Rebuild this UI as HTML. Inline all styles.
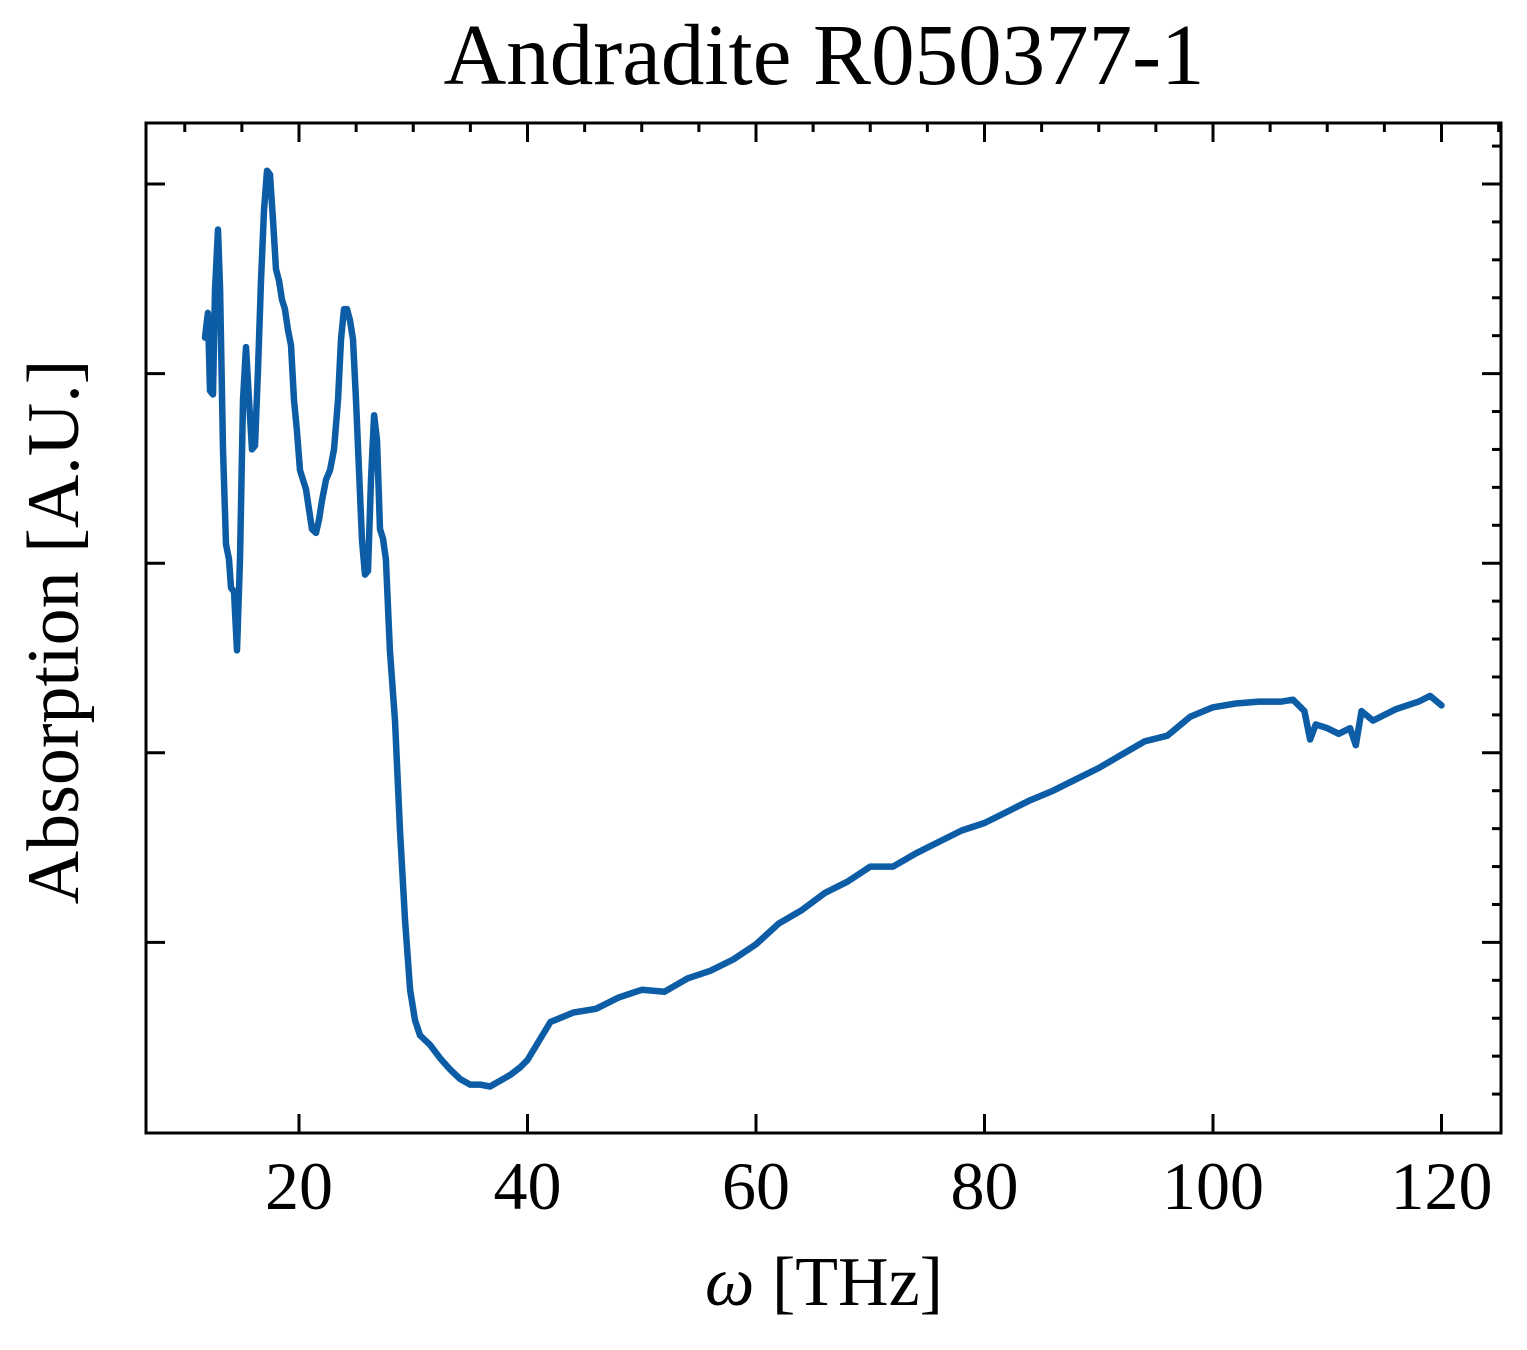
<!DOCTYPE html>
<html><head><meta charset="utf-8"><style>
html,body{margin:0;padding:0;background:#fff;}
svg text{font-family:"Liberation Serif","DejaVu Serif",serif;fill:#000;}
</style></head><body>
<svg id="chart" width="1527" height="1345" viewBox="0 0 1527 1345" xmlns="http://www.w3.org/2000/svg">
<text x="824" y="84" font-size="87" text-anchor="middle">Andradite R050377-1</text>
<g id="ticks"></g>
<path id="line" fill="none" stroke="#0C5DA5" stroke-width="6.5" stroke-linejoin="round" stroke-linecap="round"/>
<rect x="146" y="123" width="1355" height="1010" fill="none" stroke="#000" stroke-width="3"/>
<g id="xlabels"></g>
<text x="824" y="1305" font-size="70" text-anchor="middle"><tspan font-style="italic">ω</tspan> [THz]</text>
<text transform="translate(78,632) rotate(-90)" font-size="74" text-anchor="middle">Absorption [A.U.]</text>
</svg>
<script>
const xTicks=[20,40,60,80,100,120];
const yTicks=[1,2,3,4,5];
const freq=[11.77,12.03,12.21,12.47,12.65,12.91,13.09,13.35,13.61,13.87,14.05,14.31,14.57,14.84,15.10,15.36,15.62,15.89,16.15,16.41,16.67,16.94,17.20,17.46,17.72,17.99,18.25,18.51,18.77,19.04,19.30,19.56,19.82,20.09,20.35,20.61,20.88,21.14,21.49,21.75,22.01,22.36,22.71,23.06,23.41,23.68,23.94,24.20,24.46,24.73,24.99,25.25,25.51,25.78,26.04,26.30,26.57,26.83,27.09,27.35,27.61,27.96,28.40,28.84,29.28,29.72,30.15,30.59,31.47,32.34,33.22,34.09,34.97,35.84,36.72,37.59,38.47,39.34,
40,42,44,46,48,50,52,54,56,58,60,62,64,66,68,70,72,74,76,78,80,82,84,86,88,90,92,94,96,98,100,102,104,106,107,108,108.5,109,110,111,112,112.5,113,114,116,118,119,120];
const absorb=[4.19,4.32,3.91,3.89,4.44,4.76,4.44,3.60,3.10,3.02,2.87,2.85,2.54,3.02,3.86,4.14,3.86,3.60,3.62,4.02,4.49,4.86,5.07,5.05,4.81,4.55,4.49,4.39,4.34,4.23,4.15,3.86,3.70,3.49,3.44,3.39,3.28,3.18,3.16,3.23,3.33,3.44,3.49,3.60,3.86,4.18,4.34,4.34,4.28,4.18,3.86,3.49,3.12,2.94,2.96,3.44,3.78,3.65,3.18,3.13,3.02,2.54,2.17,1.59,1.12,0.75,0.59,0.51,0.46,0.39,0.33,0.28,0.25,0.25,0.24,0.27,0.30,0.34,
0.38,0.58,0.63,0.65,0.71,0.75,0.74,0.81,0.85,0.91,0.99,1.10,1.17,1.26,1.32,1.40,1.40,1.47,1.53,1.59,1.63,1.69,1.75,1.80,1.86,1.92,1.99,2.06,2.09,2.19,2.24,2.26,2.27,2.27,2.28,2.22,2.07,2.15,2.13,2.10,2.13,2.04,2.22,2.17,2.23,2.27,2.30,2.25];
const X=v=>299+(v-20)*11.425;
const Y=v=>1132-v*189.6;
const NS='http://www.w3.org/2000/svg';
const tg=document.getElementById('ticks');
function ln(x1,y1,x2,y2,name){const l=document.createElementNS(NS,'line');
l.setAttribute('x1',x1);l.setAttribute('y1',y1);l.setAttribute('x2',x2);l.setAttribute('y2',y2);
l.setAttribute('stroke','#000');l.setAttribute('stroke-width','3');


tg.appendChild(l);}
for(let v=10;v<=125;v+=5){const x=X(v);if(x<=146||x>=1501)continue;
 const major=v%20===0;
 ln(x,123,x,123+(major?19:9),'x-tick-top');
 if(major)ln(x,1133,x,1114,'x-tick-bottom');}
for(let v=0.2;v<5.3;v+=0.2){const y=Y(v);const major=Math.abs(v-Math.round(v))<0.01;
 ln(1501,y,1501-(major?19:9),y,'y-tick-right');
 if(major)ln(146,y,165,y,'y-tick-left');}
const xl=document.getElementById('xlabels');
xTicks.forEach(v=>{const t=document.createElementNS(NS,'text');
t.setAttribute('x',X(v));t.setAttribute('y',1209);t.setAttribute('font-size','68');t.setAttribute('text-anchor','middle');


t.textContent=v;xl.appendChild(t);});
document.getElementById('line').setAttribute('d',freq.map((f,i)=>(i?'L':'M')+X(f).toFixed(1)+' '+Y(absorb[i]).toFixed(1)).join(' '));
</script>
</body></html>
